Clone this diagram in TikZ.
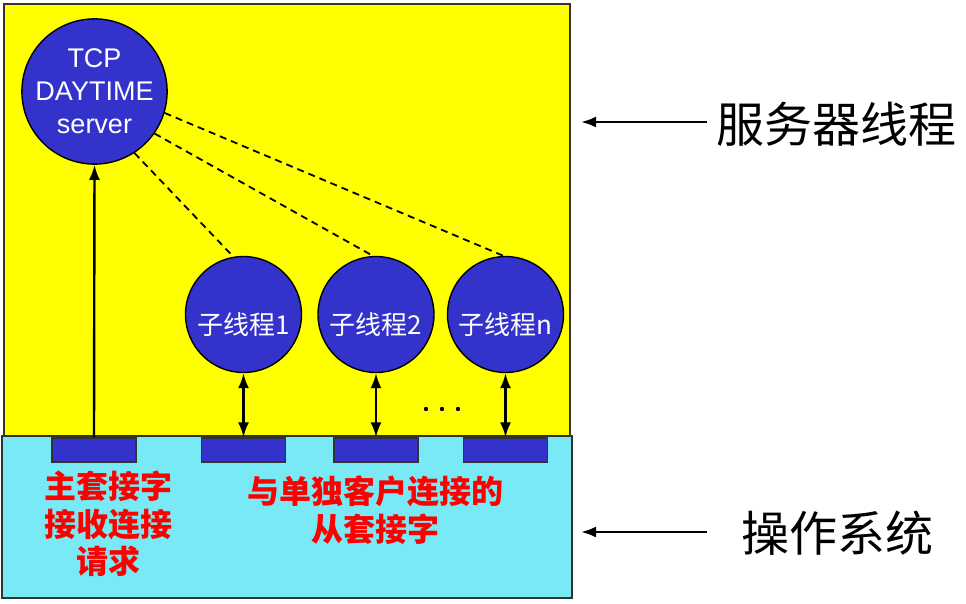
\documentclass[tikz,border=0pt]{standalone}
\usepackage{xcolor}
\usepackage{fontspec}
\setmainfont{Liberation Sans}
\newfontfamily\cjk{Noto Sans CJK SC}
\usepackage{tikz}
\usetikzlibrary{arrows.meta}

\definecolor{srvyellow}{HTML}{FFFF00}
\definecolor{oscyan}{HTML}{7AE9F6}
\definecolor{thrblue}{HTML}{3333CC}
\definecolor{edgegray}{HTML}{333333}

\tikzset{
  thr/.style={circle, draw=black, line width=1.4pt, fill=thrblue, text=white, inner sep=0pt},
  sock/.style={draw=edgegray, line width=1.4pt, fill=thrblue, minimum width=84pt, minimum height=24pt, inner sep=0pt},
  note/.style={text=red, font=\cjk\bfseries\fontsize{32}{37.5}\selectfont, align=center},
  side/.style={font=\cjk\fontsize{48}{52}\selectfont, anchor=west},
  link/.style={dash pattern=on 7pt off 5pt, line width=1.8pt}
}

\begin{document}
\begin{tikzpicture}[>={Latex[length=15pt,width=11pt]}, x=1pt, y=-1pt, line width=2.4pt]
  \useasboundingbox (0,0) rectangle (966,604);
  % two layers
  \draw[edgegray, line width=2pt, fill=srvyellow] (4,4) rectangle (570,436);
  \draw[edgegray, line width=2pt, fill=oscyan] (2,436) rectangle (572,598);
  % threads
  \node[thr, minimum size=128pt, align=center, font=\fontsize{27}{33}\selectfont] (srv) at (94.5,91.5) {TCP\\DAYTIME\\server};
  \node[thr, minimum size=116pt] (c1) at (243.5,314.5) {};
  \node[thr, minimum size=116pt] (c2) at (376,314.5) {};
  \node[thr, minimum size=116pt] (c3) at (505.5,314.5) {};
  \foreach \i/\t in {1/1, 2/2, 3/n}
    \node[text=white, font=\fontsize{26}{30}\selectfont] at ([yshift=-10pt]c\i.center) {\cjk 子线程\t};
  \draw[link] (srv.-57) -- (c1.100);
  \draw[link] (srv.-35) -- (c2.93);
  \draw[link] (srv.-17) -- (c3.92);
  % sockets
  \node[sock] (s0) at (94,450) {};
  \node[sock] (s1) at (243.5,450) {};
  \node[sock] (s2) at (376,450) {};
  \node[sock] (s3) at (505.5,450) {};
  \draw[->] (s0.north) -- (srv.south);
  \draw[<->] (s1.north) -- (c1.south);
  \draw[<->] (s2.north) -- (c2.south);
  \draw[<->] (s3.north) -- (c3.south);
  \foreach \x in {426,442,458}
    \fill (\x,409) circle (2.2pt);
  \node[note] (lmain) at (108,524) {主套接字\\接收连接\\请求};
  \node[note] (lconn) at (375.5,510) {与单独客户连接的\\从套接字};
  % side labels
  \node[side] (lsrv) at (712,124) {服务器线程};
  \node[side] (los) at (737,533) {操作系统};
  \coordinate (esrv) at (581,122);
  \coordinate (eos) at (581,532);
  \draw[->] (esrv -| lsrv.west) ++(-5,0) -- (esrv);
  \draw[->] (eos -| los.west) ++(-30,0) -- (eos);
\end{tikzpicture}
\end{document}
